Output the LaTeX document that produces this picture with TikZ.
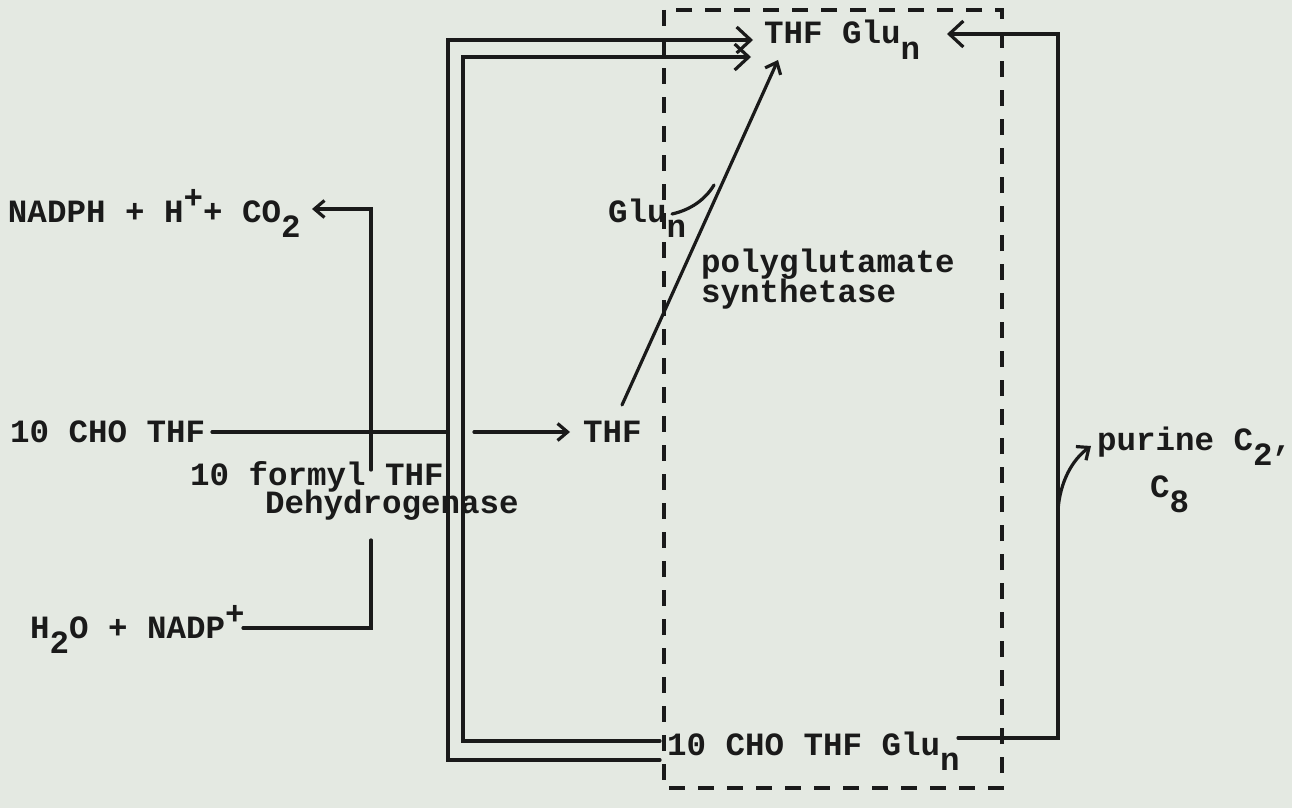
\documentclass[tikz,border=0pt]{standalone}
\usepackage{fontspec}
\setmainfont{Liberation Mono}
\usetikzlibrary{arrows.meta}
\definecolor{paper}{HTML}{E4E9E2}
\definecolor{ink}{HTML}{1A1A1A}
\newcommand{\dn}[1]{\raisebox{-0.48em}{#1}}
\newcommand{\up}[1]{\raisebox{0.42em}{#1}}
\begin{document}
\begin{tikzpicture}[x=1pt,y=-1pt,
  txt/.style={inner sep=0pt, outer sep=0pt, text=ink, font=\fontsize{32.5}{36}\selectfont\bfseries, anchor=base west},
  ln/.style={line width=3.2pt, draw=ink, line cap=round, line join=miter},
  arr/.style={ln, -{Straight Barb[length=10pt,width=17pt]}},
  bigarr/.style={ln, -{Straight Barb[length=14pt,width=26pt]}},
  dashbox/.style={line width=3.2pt, draw=ink, dash pattern=on 16pt off 13pt}]
\fill[paper] (0,0) rectangle (1292,808);
\useasboundingbox (0,0) rectangle (1292,808);
% dashed compartment
\draw[dashbox] (664,10) rectangle (1002,788);
% texts
\node[txt] (thfglu) at (764,44) {THF Glu\dn{n}};
\node[txt] (nadph) at (8,222) {NADPH + H\up{+}+ CO\dn{2}};
\node[txt] (cho) at (10,442) {10 CHO THF};
\node[txt] (thf) at (583,442) {THF};
\node[txt] (formyl) at (190,485) {10 formyl THF};
\node[txt] (dehyd) at (265,513) {Dehydrogenase};
\node[txt] (nadp) at (30,638) {H\dn{2}O + NADP\up{+}};
\node[txt] (glu) at (608,222) {Glu\dn{n}};
\node[txt] (poly) at (701,272) {\begin{tabular}[t]{@{}l@{}}polyglutamate\\[-6pt]synthetase\end{tabular}};
\node[txt] (purine) at (1097,450) {purine C\dn{2},};
\node[txt] (c8) at (1150,497) {C\dn{8}};
\node[txt] (bot) at (667,755) {10 CHO THF Glu\dn{n}};
% coordinates
\coordinate (co2e) at (312,209);
\coordinate (vt) at (371,209);
\coordinate (vm) at (371,470);
\coordinate (vb1) at (371,540);
\coordinate (vb) at (371,628);
\coordinate (nadpe) at (243,628);
\coordinate (choe) at (212,432);
\coordinate (gapL) at (446,432);
\coordinate (gapR) at (474,432);
\coordinate (thfw) at (570,432);
\coordinate (botA) at (660,741);
\coordinate (botB) at (660,760);
\coordinate (oX) at (448,40);
\coordinate (iX) at (463,57);
\coordinate (tipA) at (753,40);
\coordinate (tipB) at (751,57);
\coordinate (rTop) at (1058,34);
\coordinate (rTip) at (947,34);
\coordinate (rBot) at (1058,738);
\coordinate (botE) at (958,738);
\coordinate (thfS) at (622,405);
\coordinate (thfgluS) at (778,60);
\coordinate (gluE) at (672,214);
\coordinate (join) at (714,185);
\coordinate (pStart) at (1058,510);
\coordinate (pTip) at (1091,446);
% dehydrogenase side reaction
\draw[arr] (vm) -- (vt) -- (co2e);
\draw[ln] (nadpe) -- (vb) -- (vb1);
% main arrow 10 CHO THF -> THF
\draw[ln] (choe) -- (gapL);
\draw[arr] (gapR) -- (thfw);
% return loops from 10 CHO THF Glu_n
\draw[bigarr] (botB) -| (oX) -- (tipA);
\draw[bigarr] (botA) -| (iX) -- (tipB);
% right loop
\draw[bigarr] (botE) -- (rBot) -- (rTop) -- (rTip);
% polyglutamate synthetase
\draw[arr] (thfS) -- (thfgluS);
\draw[ln] (gluE) .. controls (690,210) and (705,200) .. (join);
% purine
\draw[arr] (pStart) .. controls (1060,482) and (1072,460) .. (pTip);
\end{tikzpicture}
\end{document}
